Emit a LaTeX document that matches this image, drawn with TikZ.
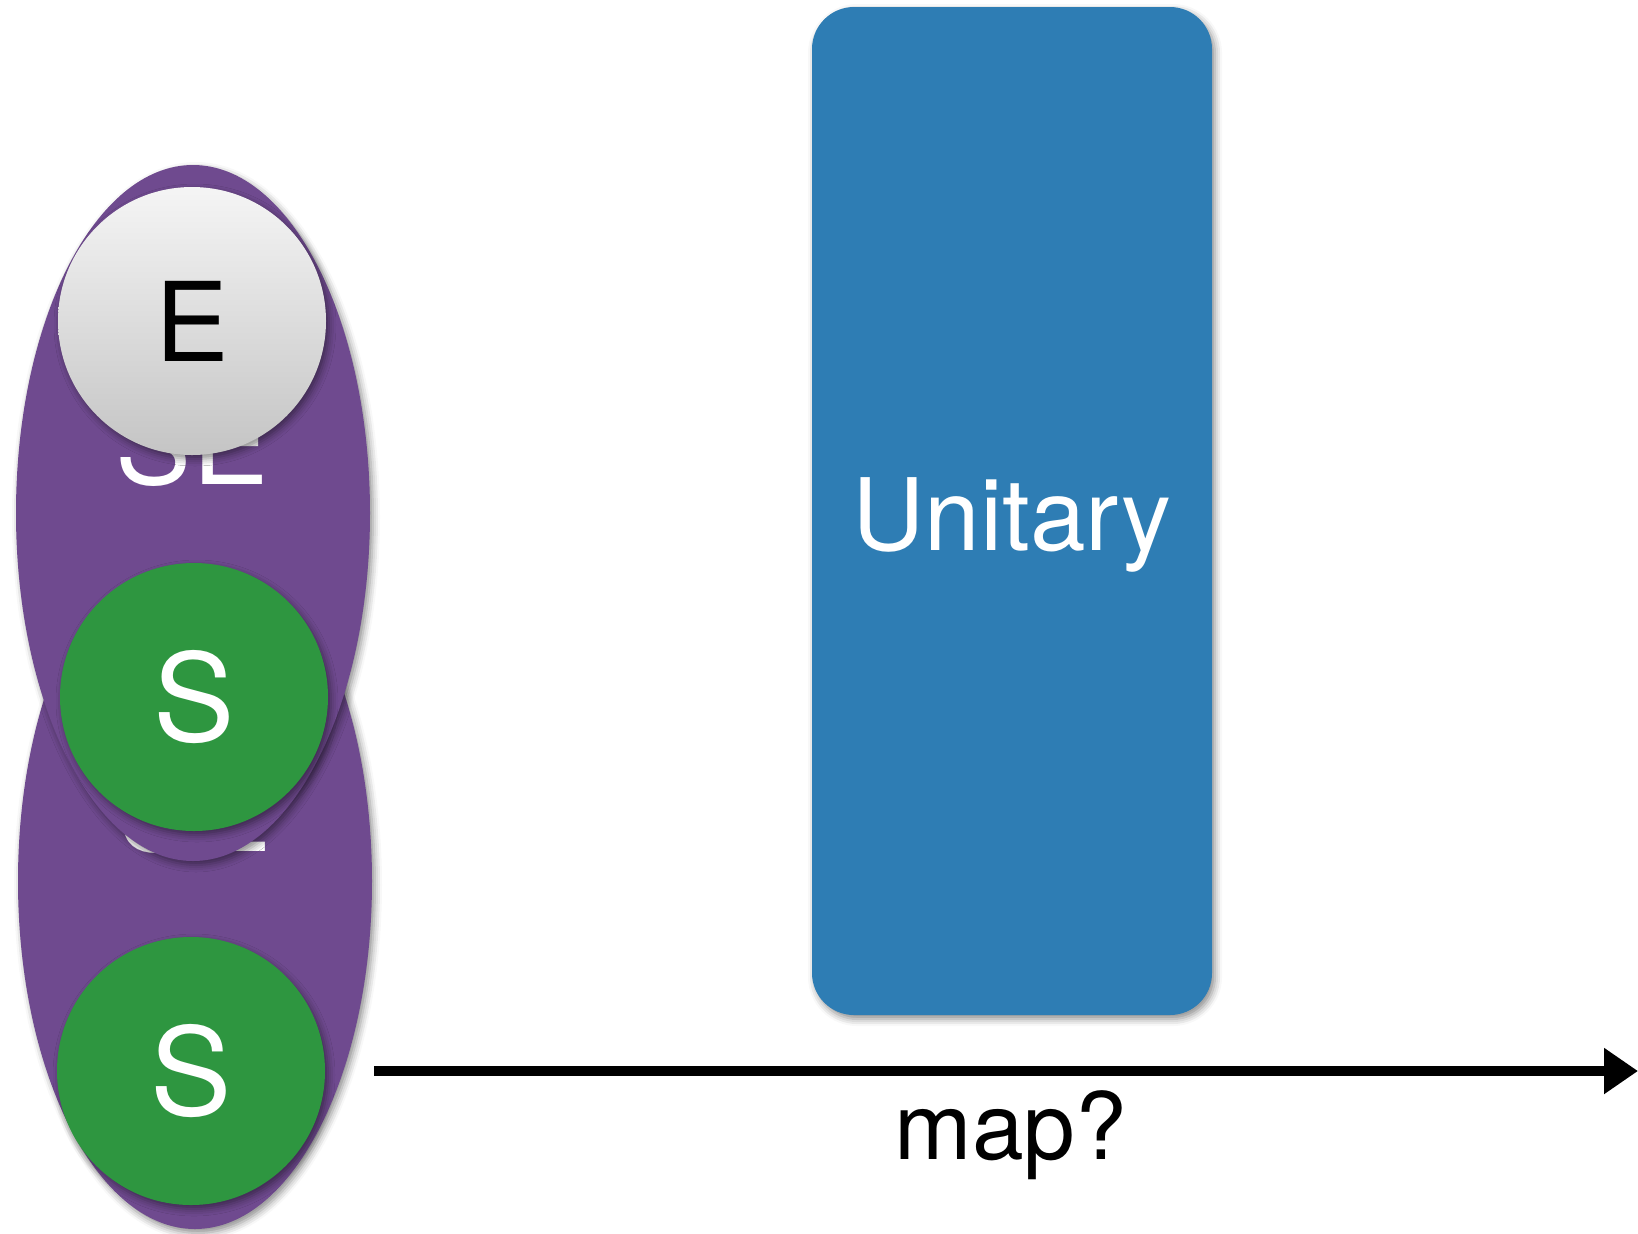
\documentclass[tikz,border=0pt]{standalone}
\usepackage{fontspec}
\setmainfont{TeX Gyre Heros}
\usetikzlibrary{shapes.geometric,shadows.blur,arrows.meta}

\definecolor{sepurple}{HTML}{6F4A8F}
\definecolor{sgreen}{HTML}{2E9640}
\definecolor{ublue}{HTML}{2E7DB4}

\tikzset{
  soft/.style={blur shadow={shadow xshift=1.5pt,shadow yshift=-2pt,shadow blur radius=3.5pt,shadow opacity=45}},
  pair/.style={ellipse,soft,fill=sepurple,draw=none,inner sep=0pt,minimum width=177pt,minimum height=348pt},
  ball/.style={circle,soft,draw=none,inner sep=0pt,minimum size=134pt},
  sball/.style={ball,fill=sgreen,text=white,font=\fontsize{61pt}{64pt}\selectfont},
  eball/.style={ball,top color=white!96!black,bottom color=white!77!black,text=black,font=\fontsize{55pt}{58pt}\selectfont},
  pairlab/.style={text=white,anchor=base,inner sep=0pt,font=\fontsize{57pt}{60pt}\selectfont},
  gatebox/.style={rectangle,rounded corners=21pt,soft,fill=ublue,draw=none,minimum width=200pt,minimum height=504pt,inner sep=0pt},
  gatelab/.style={text=white,anchor=base,inner sep=0pt,font=\fontsize{50pt}{54pt}\selectfont},
  maplab/.style={text=black,anchor=base,inner sep=0pt,font=\fontsize{46.5pt}{50pt}\selectfont},
  maparrow/.style={line width=4.75pt,-{Triangle[length=17pt,width=22pt]}}
}

\begin{document}
\begin{tikzpicture}[x=0.5pt,y=-0.5pt]
  \useasboundingbox (0,0) rectangle (1638,1233);

  % lower system-environment pair
  \node[pair] (pairB) at (195,881) {};
  \node[pairlab] (pairBlab) at (195,851) {SE};
  \node[sball] (sB) at (191,1071) {S};

  % upper system-environment pair
  \node[pair] (pairA) at (193,513) {};
  \node[pairlab] (pairAlab) at (192,484) {SE};
  \node[sball] (sA) at (194,697) {S};
  \node[eball] (eA) at (192,321) {E};

  % unitary block
  \node[gatebox] (gate) at (1012,511) {};
  \node[gatelab] (gatelab) at (1012,550) {Unitary};

  % map arrow
  \coordinate (mapstart) at (374,1071);
  \coordinate (mapend) at (1638,1071);
  \draw[maparrow] (mapstart) -- (mapend);
  \node[maplab] (maplab) at (1011,1159) {map?};
\end{tikzpicture}
\end{document}
